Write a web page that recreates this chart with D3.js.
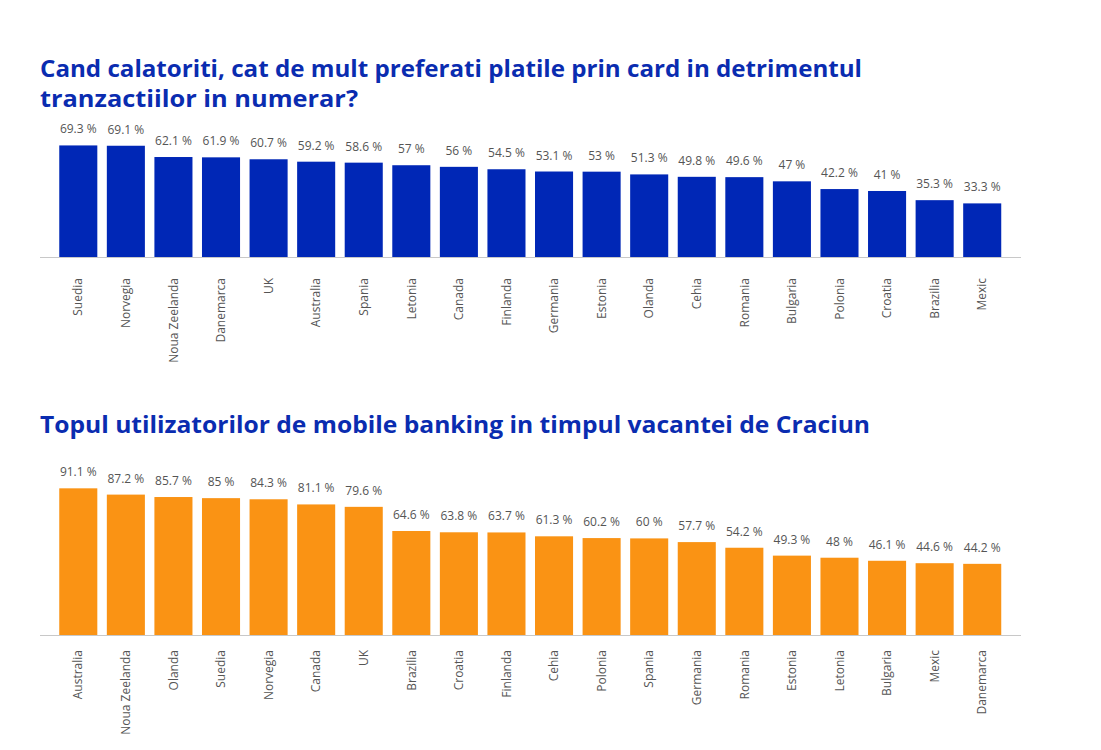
<html>
<head>
<meta charset="utf-8">
<style>
  body { margin: 0; background: #fff; }
  .chart text { font-family: "Open Sans", sans-serif; }
  .chart text.title { font-family: "Open Sans", "Noto Sans", sans-serif; font-weight: 700; }
</style>
</head>
<body>
<svg class="chart"></svg>
<script src="https://cdn.jsdelivr.net/npm/d3@7"></script>
<script>
// first chart: card payments preference while travelling
var cardCountries = ["Suedia", "Norvegia", "Noua Zeelanda", "Danemarca", "UK", "Australia", "Spania", "Letonia", "Canada", "Finlanda",
                     "Germania", "Estonia", "Olanda", "Cehia", "Romania", "Bulgaria", "Polonia", "Croatia", "Brazilia", "Mexic"];
var cardValues = [69.3, 69.1, 62.1, 61.9, 60.7, 59.2, 58.6, 57, 56, 54.5, 53.1, 53, 51.3, 49.8, 49.6, 47, 42.2, 41, 35.3, 33.3];

// second chart: mobile banking users over christmas
var mobileCountries = ["Australia", "Noua Zeelanda", "Olanda", "Suedia", "Norvegia", "Canada", "UK", "Brazilia", "Croatia", "Finlanda",
                       "Cehia", "Polonia", "Spania", "Germania", "Romania", "Estonia", "Letonia", "Bulgaria", "Mexic", "Danemarca"];
var mobileValues = [91.1, 87.2, 85.7, 85, 84.3, 81.1, 79.6, 64.6, 63.8, 63.7, 61.3, 60.2, 60, 57.7, 54.2, 49.3, 48, 46.1, 44.6, 44.2];

var titles = [
  ["Cand calatoriti, cat de mult preferati platile prin card in detrimentul", "tranzactiilor in numerar?"],
  ["Topul utilizatorilor de mobile banking in timpul vacantei de Craciun"]
];

var width = 1101, height = 750;
var svg = d3.select(".chart").attr("width", width).attr("height", height);

var pxPerUnit = 1.61;

function drawChart(cats, vals, color, baseline, labelOffset) {
  var x = d3.scaleBand()
    .domain(cats)
    .range([54.5, 1006])
    .paddingInner(0.2)
    .paddingOuter(0.1);
  var y = d3.scaleLinear()
    .domain([0, 100])
    .range([baseline, baseline - 100 * pxPerUnit]);

  var g = svg.append("g");

  g.selectAll("rect")
    .data(vals)
    .enter().append("rect")
      .attr("x", function(d, i) { return x(cats[i]); })
      .attr("y", function(d) { return y(d); })
      .attr("width", x.bandwidth())
      .attr("height", function(d) { return baseline - y(d); })
      .attr("fill", color);

  g.selectAll("text.val")
    .data(vals)
    .enter().append("text")
      .attr("class", "val")
      .attr("text-anchor", "middle")
      .attr("font-size", "12px")
      .attr("fill", "#555")
      .attr("x", function(d, i) { return x(cats[i]) + x.bandwidth() / 2; })
      .attr("y", function(d) { return y(d) - 12; })
      .text(function(d) { return d + " %"; });

  g.append("line")
    .attr("x1", 40).attr("x2", 1021)
    .attr("y1", baseline + 0.5).attr("y2", baseline + 0.5)
    .attr("stroke", "#c8c8c8");

  g.selectAll("text.cat")
    .data(cats)
    .enter().append("text")
      .attr("class", "cat")
      .attr("text-anchor", "end")
      .attr("font-size", "12px")
      .attr("fill", "#555")
      .attr("dy", "0.35em")
      .attr("transform", function(d) {
        return "translate(" + (x(d) + x.bandwidth() / 2) + "," + (baseline + labelOffset) + ") rotate(-90)";
      })
      .text(function(d) { return d; });
}

function drawTitle(lines, top, widths) {
  lines.forEach(function(l, i) {
    svg.append("text")
      .attr("class", "title")
      .attr("x", 40)
      .attr("y", top + i * 30)
      .attr("font-size", "24px")
      .attr("fill", "#0a2cb0")
      .attr("textLength", widths[i])
      .attr("lengthAdjust", "spacingAndGlyphs")
      .text(l);
  });
}

drawTitle(titles[0], 77, [822, 318]);
drawTitle(titles[1], 433, [830]);

drawChart(cardCountries, cardValues, "#0027b6", 257, 21);
drawChart(mobileCountries, mobileValues, "#fa9314", 635, 15);
</script>
</body>
</html>
